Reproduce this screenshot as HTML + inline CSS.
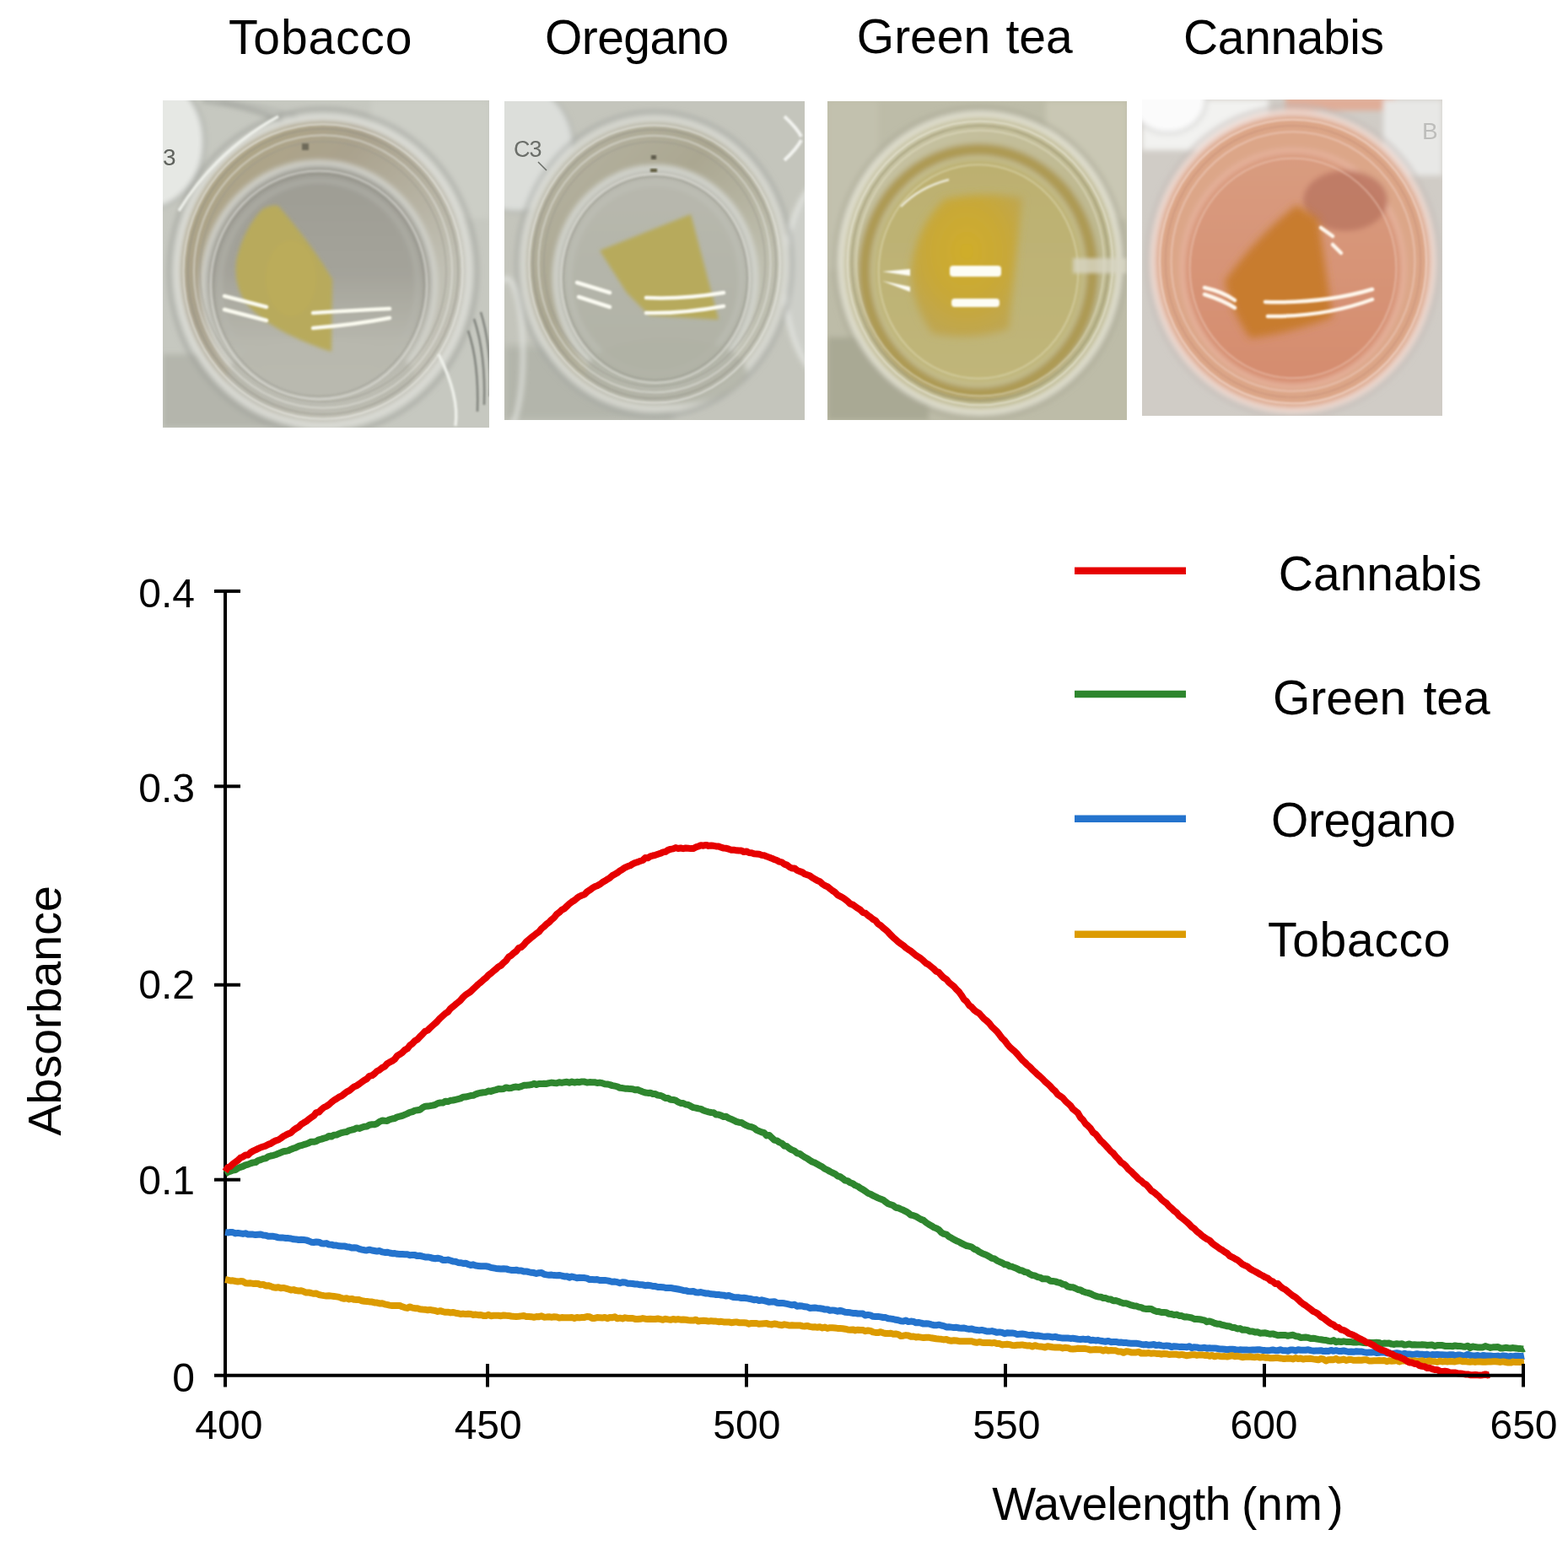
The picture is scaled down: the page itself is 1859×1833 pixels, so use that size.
<!DOCTYPE html>
<html><head><meta charset="utf-8"><title>Absorbance spectra</title>
<style>html,body{margin:0;padding:0;background:#fff;}svg{display:block;}</style></head>
<body>
<svg width="1859" height="1833" viewBox="0 0 1859 1833">
<defs>

<linearGradient id="g1in" x1="0" y1="0" x2="0" y2="1">
  <stop offset="0" stop-color="#9d9c93"/><stop offset="0.45" stop-color="#a4a39a"/><stop offset="0.75" stop-color="#b8b8ae"/><stop offset="1" stop-color="#c2c2b8"/>
</linearGradient>
<linearGradient id="g1ring" x1="0" y1="0" x2="1" y2="1">
  <stop offset="0" stop-color="#b2a883"/><stop offset="0.35" stop-color="#aaa28d"/><stop offset="0.7" stop-color="#c0bfb3"/><stop offset="1" stop-color="#c4c4bb"/>
</linearGradient>
<linearGradient id="g2in" x1="0" y1="0" x2="0" y2="1">
  <stop offset="0" stop-color="#b8b8ae"/><stop offset="1" stop-color="#b0b2a5"/>
</linearGradient>
<linearGradient id="g2ring" x1="0" y1="0" x2="1" y2="1">
  <stop offset="0" stop-color="#b8b6a6"/><stop offset="0.4" stop-color="#aba791"/><stop offset="0.7" stop-color="#bebeae"/><stop offset="1" stop-color="#c0c1b6"/>
</linearGradient>
<linearGradient id="g3ring" x1="0" y1="0" x2="1" y2="1">
  <stop offset="0" stop-color="#c8c5a8"/><stop offset="0.5" stop-color="#c0ba92"/><stop offset="1" stop-color="#bcb88e"/>
</linearGradient>
<linearGradient id="g3in" x1="0" y1="0" x2="0" y2="1">
  <stop offset="0" stop-color="#bcb070"/><stop offset="1" stop-color="#c0b67a"/>
</linearGradient>
<linearGradient id="g4in" x1="0" y1="0" x2="0" y2="1">
  <stop offset="0" stop-color="#d99c80"/><stop offset="1" stop-color="#d58c6e"/>
</linearGradient>
<radialGradient id="g3leaf" cx="0.5" cy="0.4" r="0.6">
  <stop offset="0" stop-color="#d0ad2a"/><stop offset="0.6" stop-color="#c8a838"/><stop offset="1" stop-color="#bfa650"/>
</radialGradient>

<clipPath id="c1"><rect x="193" y="119" width="387" height="388"/></clipPath>
<clipPath id="c2"><rect x="598" y="120" width="356" height="378"/></clipPath>
<clipPath id="c3"><rect x="981" y="120" width="355" height="378"/></clipPath>
<clipPath id="c4"><rect x="1354" y="118" width="356" height="375"/></clipPath>
<filter id="b1" x="-20%" y="-20%" width="140%" height="140%"><feGaussianBlur stdDeviation="1"/></filter>
<filter id="b2" x="-20%" y="-20%" width="140%" height="140%"><feGaussianBlur stdDeviation="2"/></filter>
<filter id="b3" x="-20%" y="-20%" width="140%" height="140%"><feGaussianBlur stdDeviation="3"/></filter>
<filter id="b4" x="-20%" y="-20%" width="140%" height="140%"><feGaussianBlur stdDeviation="5"/></filter>
</defs>
<rect width="1859" height="1833" fill="#fff"/>

<g clip-path="url(#c1)">
  <rect x="193" y="119" width="387" height="388" fill="#c6c8c0"/>
  <g filter="url(#b3)">
    <rect x="440" y="119" width="140" height="140" fill="#ccceC6"/>
    <rect x="193" y="420" width="220" height="87" fill="#b4b5ac"/>
    <ellipse cx="172" cy="168" rx="70" ry="80" fill="#e6e8e4" stroke="#9a9d98" stroke-width="2.5"/>
    <path d="M240 119 Q300 126 350 150" stroke="#8f918c" stroke-width="2.5" fill="none"/>
    <path d="M262 119 Q315 125 365 143" stroke="#a3a5a0" stroke-width="2" fill="none"/>
    <ellipse cx="383" cy="322" rx="182.4" ry="192.7" fill="none" stroke="#9c9e98" stroke-width="3"/>
    <ellipse cx="383" cy="322" rx="172.7" ry="182.4" fill="url(#g1ring)" stroke="#dcddd7" stroke-width="8"/>
    <ellipse cx="378" cy="338" rx="137.1" ry="144.8" fill="url(#g1in)" stroke="#d6d7d0" stroke-width="6"/>
    <ellipse cx="378" cy="338" rx="117.5" ry="124.1" fill="none" stroke="#b7b8b0" stroke-width="3"/>
    <ellipse cx="380" cy="445" rx="110" ry="45" fill="#b8b8ae" opacity="0.8"/>
  </g>
  <g filter="url(#b1)"><ellipse cx="383" cy="322" rx="165.5" ry="174.8" fill="none" stroke="#eeeee8" stroke-width="2" opacity="0.7"/><ellipse cx="383" cy="322" rx="160.2" ry="169.2" fill="none" stroke="#8e8c82" stroke-width="1.5" opacity="0.5"/><ellipse cx="383" cy="322" rx="153.1" ry="161.7" fill="none" stroke="#e4e4de" stroke-width="2" opacity="0.6"/><ellipse cx="383" cy="322" rx="146.0" ry="154.2" fill="none" stroke="#98968c" stroke-width="1.5" opacity="0.5"/></g>
  <g filter="url(#b1)"><ellipse cx="378" cy="338" rx="128.2" ry="135.4" fill="none" stroke="#e8e8e2" stroke-width="2" opacity="0.6"/><ellipse cx="378" cy="338" rx="124.6" ry="131.6" fill="none" stroke="#8a8a82" stroke-width="1.5" opacity="0.4"/></g>
  <g filter="url(#b2)">
    <path d="M311 248 Q322 242 330 244 Q370 290 394 331 L393 417 Q370 410 341 396 Q300 375 287 352 Q276 330 281 305 Q290 270 311 248 Z" fill="#b8aa5c"/>
    <ellipse cx="345" cy="330" rx="30" ry="45" fill="#bdae58" opacity="0.6"/>
  </g>
  <g filter="url(#b1)" stroke="#fbfbf0" stroke-width="4.5" fill="none" stroke-linecap="round">
    <path d="M266 351 L316 364"/><path d="M266 367 L316 380"/>
    <path d="M371 371 Q420 368 462 366"/><path d="M371 389 Q420 385 462 377"/>
  </g>
  <g filter="url(#b1)" stroke="#7f827c" stroke-width="2.5" fill="none">
    <path d="M562 378 Q576 420 574 480"/><path d="M555 392 Q568 430 566 488"/><path d="M570 370 Q583 412 581 470"/>
  </g>
  <g filter="url(#b1)" stroke="#eef0ea" stroke-width="3.5" fill="none">
    <path d="M212 250 Q255 180 330 138"/>
    <path d="M520 420 Q545 470 540 505"/>
  </g>
  <text x="193" y="196" font-family="'Liberation Sans', Arial, Helvetica, sans-serif" font-size="28" fill="#5f625d">3</text>
  <rect x="358" y="170" width="8" height="8" fill="#6e6a5a" filter="url(#b1)"/>
</g>

<g clip-path="url(#c2)">
  <rect x="598" y="120" width="356" height="378" fill="#c4c5bc"/>
  <rect x="598" y="410" width="200" height="88" fill="#b3b5ab" filter="url(#b4)"/>
  <g filter="url(#b3)">
    <ellipse cx="612" cy="175" rx="68" ry="76" fill="#dcdeda" stroke="#a9aca7" stroke-width="2.5"/>
    <ellipse cx="985" cy="330" rx="55" ry="120" fill="#cdcfc9" stroke="#e8eae6" stroke-width="4"/>
    <ellipse cx="600" cy="420" rx="20" ry="90" fill="none" stroke="#e6e8e4" stroke-width="4"/>
    <ellipse cx="776" cy="313" rx="163.2" ry="180.5" fill="none" stroke="#a2a5a0" stroke-width="3"/>
    <ellipse cx="776" cy="313" rx="155.2" ry="171.7" fill="url(#g2ring)" stroke="#d8d9d2" stroke-width="8"/>
    <ellipse cx="777" cy="330" rx="118.4" ry="131.0" fill="url(#g2in)" stroke="#d8dad4" stroke-width="6"/>
    <ellipse cx="777" cy="330" rx="102.4" ry="113.3" fill="none" stroke="#c2c4bc" stroke-width="3"/>
    <ellipse cx="790" cy="440" rx="95" ry="40" fill="#b0b2a5" opacity="0.8"/>
  </g>
  <g filter="url(#b1)"><ellipse cx="776" cy="313" rx="148.8" ry="164.6" fill="none" stroke="#eeeee8" stroke-width="2" opacity="0.7"/><ellipse cx="776" cy="313" rx="144.0" ry="159.3" fill="none" stroke="#8e8c82" stroke-width="1.5" opacity="0.5"/><ellipse cx="776" cy="313" rx="137.6" ry="152.2" fill="none" stroke="#e4e4de" stroke-width="2" opacity="0.6"/><ellipse cx="776" cy="313" rx="131.2" ry="145.1" fill="none" stroke="#98968c" stroke-width="1.5" opacity="0.5"/></g>
  <g filter="url(#b1)"><ellipse cx="777" cy="330" rx="112.0" ry="123.9" fill="none" stroke="#e8e8e2" stroke-width="2" opacity="0.6"/><ellipse cx="777" cy="330" rx="108.8" ry="120.4" fill="none" stroke="#8a8a82" stroke-width="1.5" opacity="0.4"/></g>
  <g filter="url(#b2)">
    <path d="M711 297 L819 254 L852 379 L770 374 L743 347 Z" fill="#b7aa5c"/>
  </g>
  <g filter="url(#b1)" stroke="#fbfbf2" stroke-width="4.5" fill="none" stroke-linecap="round">
    <path d="M684 335 L723 347"/><path d="M686 352 L723 364"/>
    <path d="M766 353 Q810 355 858 347"/><path d="M766 371 Q810 372 858 363"/>
  </g>
  <text x="609" y="186" font-family="'Liberation Sans', Arial, Helvetica, sans-serif" font-size="27" fill="#6b6e69" letter-spacing="-1">C3</text>
  <path d="M638 192 L648 202" stroke="#6b6e69" stroke-width="1.5"/>
  <g filter="url(#b1)" stroke="#f2f3ef" stroke-width="4" fill="none">
    <path d="M930 138 Q945 152 950 162"/><path d="M930 190 Q945 176 950 166"/>
  </g>
  <rect x="772" y="184" width="6" height="5" fill="#5d5a4c" filter="url(#b1)"/>
  <rect x="771" y="200" width="8" height="4" fill="#5d5a3c" filter="url(#b1)"/>
</g>

<g clip-path="url(#c3)">
  <rect x="981" y="120" width="355" height="378" fill="#bdbca8"/>
  <g filter="url(#b3)">
    <rect x="1240" y="120" width="96" height="140" fill="#c9c7b4"/>
    <rect x="981" y="120" width="60" height="200" fill="#c2c1ae"/>
    <rect x="981" y="400" width="120" height="98" fill="#a9a994"/>
    <ellipse cx="1162" cy="312" rx="172.4" ry="184.6" fill="none" stroke="#a9a794" stroke-width="3"/>
    <ellipse cx="1162" cy="312" rx="164.8" ry="176.5" fill="url(#g3ring)" stroke="#e2e1d2" stroke-width="7"/>
    <ellipse cx="1160" cy="322" rx="135.2" ry="144.8" fill="none" stroke="#ad9a52" stroke-width="14"/>
    <ellipse cx="1160" cy="322" rx="125.1" ry="133.9" fill="url(#g3in)" stroke="#c9c393" stroke-width="3"/>
  </g>
  <g filter="url(#b1)"><ellipse cx="1162" cy="312" rx="157.2" ry="168.3" fill="none" stroke="#efeee0" stroke-width="2" opacity="0.7"/><ellipse cx="1162" cy="312" rx="152.1" ry="162.9" fill="none" stroke="#8c8660" stroke-width="1.5" opacity="0.5"/><ellipse cx="1162" cy="312" rx="147.0" ry="157.5" fill="none" stroke="#e2dfc4" stroke-width="2" opacity="0.6"/></g>
  <g filter="url(#b1)"><ellipse cx="1160" cy="322" rx="118.3" ry="126.7" fill="none" stroke="#e6e2c0" stroke-width="2" opacity="0.5"/></g>
  <g filter="url(#b4)">
    <path d="M1120 236 Q1170 226 1212 235 L1196 390 Q1150 405 1105 395 Q1080 360 1080 320 Q1085 270 1120 236 Z" fill="url(#g3leaf)"/>
  </g>
  <g filter="url(#b1)" fill="#fdfdf4">
    <rect x="1126" y="315" width="61" height="13" rx="4"/>
    <rect x="1128" y="354" width="57" height="10" rx="4"/>
    <path d="M1046 322 L1079 319 L1079 327 Z"/><path d="M1046 333 L1079 340 L1079 346 Z"/>
  </g>
  <g filter="url(#b1)" stroke="#ecead8" stroke-width="2.5" fill="none">
    <path d="M1068 245 Q1090 222 1125 213"/>
  </g>
  <g filter="url(#b2)" fill="#d8d6c4" opacity="0.8">
    <rect x="1272" y="306" width="64" height="18"/>
  </g>
</g>

<g clip-path="url(#c4)">
  <rect x="1354" y="118" width="356" height="375" fill="#d0ccc6"/>
  <g filter="url(#b3)">
    <rect x="1354" y="118" width="150" height="60" fill="#f2f2f0"/>
    <ellipse cx="1385" cy="118" rx="45" ry="40" fill="#fbfbfb" stroke="#d0d0ce" stroke-width="3"/>
    <rect x="1524" y="114" width="130" height="17" fill="#e0ad98"/>
    <rect x="1640" y="118" width="70" height="90" fill="#e8e8e6"/>
    <ellipse cx="1533" cy="310" rx="173.4" ry="184.6" fill="none" stroke="#c2bab6" stroke-width="3"/>
    <ellipse cx="1533" cy="310" rx="165.8" ry="176.5" fill="#dca688" stroke="#eed8cf" stroke-width="7"/>
    <ellipse cx="1533" cy="318" rx="130.9" ry="139.4" fill="url(#g4in)" stroke="#e6b29c" stroke-width="6"/>
    <ellipse cx="1595" cy="238" rx="50" ry="36" fill="#bb7562" opacity="0.85"/>
  </g>
  <g filter="url(#b1)"><ellipse cx="1533" cy="310" rx="158.1" ry="168.3" fill="none" stroke="#f6e0d6" stroke-width="2" opacity="0.7"/><ellipse cx="1533" cy="310" rx="151.3" ry="161.1" fill="none" stroke="#b8806c" stroke-width="1.5" opacity="0.4"/><ellipse cx="1533" cy="310" rx="144.5" ry="153.8" fill="none" stroke="#f0cfc2" stroke-width="2" opacity="0.6"/></g>
  <g filter="url(#b1)"><ellipse cx="1533" cy="318" rx="122.4" ry="130.3" fill="none" stroke="#f2cfc0" stroke-width="2" opacity="0.5"/></g>
  <g filter="url(#b4)">
    <path d="M1537 243 L1563 259 L1580 376 Q1530 395 1482 401 Q1460 370 1452 333 Q1490 280 1537 243 Z" fill="#c87c2e"/>
  </g>
  <g filter="url(#b1)" stroke="#fff7ec" stroke-width="4.5" fill="none" stroke-linecap="round">
    <path d="M1428 341 Q1450 346 1464 356"/><path d="M1428 349 Q1450 356 1464 365"/>
    <path d="M1500 358 Q1570 360 1627 343"/><path d="M1503 375 Q1570 376 1627 355"/>
    <path d="M1566 270 L1580 280"/><path d="M1580 290 L1590 300"/>
  </g>
  <text x="1686" y="165" font-family="'Liberation Sans', Arial, Helvetica, sans-serif" font-size="28" fill="#bdbdbb">B</text>
</g>
<g font-family="'Liberation Sans', Arial, Helvetica, sans-serif" font-size="57" fill="#000">
<text x="271" y="63.6" letter-spacing="0.85">Tobacco</text>
<text x="646.1" y="63.8" letter-spacing="-0.6">Oregano</text>
<text x="1015.8" y="63.3">Green</text><text x="1192.5" y="63.3">tea</text>
<text x="1403.1" y="63.7" letter-spacing="-0.4">Cannabis</text>
<text x="1515.8" y="700.1">Cannabis</text>
<text x="1508.9" y="847">Green</text><text x="1687.4" y="847">tea</text>
<text x="1507.1" y="991.5" letter-spacing="-0.5">Oregano</text>
<text x="1503" y="1133.6" letter-spacing="0.7">Tobacco</text>
</g>
<line x1="267" y1="699" x2="267" y2="1644.5" stroke="#000" stroke-width="4"/>
<g fill="none" stroke-width="8" stroke-linejoin="round" stroke-linecap="butt">
<path stroke="#2473cd" d="M267 1460.8 L270 1461.4 L273 1461.1 L276 1461.1 L279 1462.4 L282 1461.9 L285 1462.4 L288 1462.9 L291 1462.3 L294 1463.4 L297 1463.5 L300 1463.6 L303 1464.1 L306 1463.8 L309 1463.5 L312 1464.6 L315 1464.7 L318 1465.8 L321 1465.8 L324 1465.8 L327 1466.4 L330 1467.3 L333 1467.6 L336 1467.6 L339 1468.0 L342 1468.1 L345 1468.5 L348 1469.3 L351 1469.4 L354 1470.0 L357 1469.8 L360 1470.0 L363 1470.4 L366 1471.4 L369 1472.7 L372 1473.0 L375 1472.5 L378 1472.7 L381 1474.2 L384 1474.5 L387 1474.1 L390 1475.6 L393 1475.7 L396 1476.6 L399 1476.6 L402 1477.3 L405 1477.5 L408 1477.4 L411 1478.2 L414 1478.5 L417 1479.6 L420 1479.3 L423 1479.5 L426 1480.9 L429 1481.6 L432 1482.2 L435 1482.4 L438 1481.7 L441 1482.5 L444 1483.0 L447 1483.6 L450 1483.0 L453 1484.4 L456 1484.9 L459 1484.7 L462 1485.5 L465 1486.2 L468 1486.0 L471 1486.8 L474 1487.0 L477 1487.1 L480 1487.3 L483 1487.3 L486 1488.3 L489 1487.9 L492 1488.1 L495 1489.1 L498 1488.8 L501 1489.7 L504 1490.4 L507 1490.4 L510 1490.9 L513 1491.8 L516 1492.2 L519 1491.7 L522 1492.3 L525 1494.0 L528 1494.1 L531 1493.6 L534 1494.5 L537 1495.6 L540 1495.7 L543 1496.9 L546 1497.2 L549 1497.9 L552 1497.7 L555 1499.0 L558 1500.0 L561 1499.3 L564 1500.6 L567 1500.9 L570 1501.2 L573 1501.3 L576 1501.2 L579 1501.7 L582 1502.9 L585 1503.4 L588 1503.9 L591 1504.2 L594 1504.5 L597 1504.3 L600 1504.4 L603 1505.4 L606 1505.9 L609 1506.1 L612 1505.7 L615 1506.6 L618 1506.5 L621 1507.6 L624 1507.4 L627 1508.2 L630 1508.8 L633 1509.1 L636 1510.0 L639 1509.2 L642 1509.1 L645 1510.8 L648 1511.4 L651 1511.8 L654 1511.6 L657 1512.1 L660 1512.2 L663 1511.9 L666 1512.6 L669 1513.4 L672 1513.2 L675 1514.7 L678 1513.5 L681 1514.3 L684 1515.3 L687 1514.8 L690 1514.9 L693 1515.1 L696 1515.7 L699 1517.1 L702 1516.9 L705 1517.2 L708 1517.1 L711 1518.0 L714 1518.0 L717 1517.9 L720 1518.4 L723 1519.0 L726 1519.8 L729 1519.6 L732 1520.2 L735 1521.2 L738 1520.2 L741 1520.4 L744 1521.7 L747 1521.8 L750 1522.0 L753 1522.5 L756 1522.6 L759 1523.3 L762 1523.3 L765 1524.2 L768 1523.7 L771 1524.2 L774 1525.0 L777 1525.1 L780 1526.0 L783 1526.0 L786 1526.2 L789 1526.9 L792 1527.0 L795 1526.9 L798 1527.5 L801 1528.0 L804 1528.5 L807 1529.2 L810 1529.9 L813 1530.2 L816 1531.1 L819 1531.3 L822 1531.0 L825 1532.2 L828 1532.4 L831 1532.1 L834 1532.8 L837 1533.5 L840 1533.6 L843 1534.3 L846 1534.4 L849 1535.0 L852 1534.9 L855 1535.6 L858 1535.7 L861 1536.6 L864 1535.9 L867 1537.2 L870 1538.1 L873 1538.2 L876 1538.3 L879 1539.0 L882 1538.8 L885 1539.2 L888 1539.8 L891 1540.3 L894 1541.2 L897 1540.8 L900 1542.1 L903 1541.3 L906 1542.1 L909 1542.9 L912 1543.8 L915 1543.4 L918 1543.2 L921 1544.7 L924 1544.9 L927 1544.9 L930 1545.3 L933 1545.9 L936 1546.6 L939 1547.3 L942 1546.7 L945 1548.8 L948 1548.2 L951 1548.5 L954 1549.3 L957 1549.5 L960 1550.9 L963 1550.7 L966 1550.5 L969 1550.9 L972 1551.2 L975 1551.7 L978 1552.6 L981 1552.4 L984 1553.8 L987 1553.4 L990 1553.8 L993 1554.7 L996 1553.8 L999 1554.7 L1002 1555.8 L1005 1555.9 L1008 1556.3 L1011 1556.9 L1014 1556.9 L1017 1557.5 L1020 1557.4 L1023 1557.6 L1026 1559.5 L1029 1558.9 L1032 1559.4 L1035 1560.8 L1038 1561.1 L1041 1560.9 L1044 1561.4 L1047 1562.0 L1050 1562.1 L1053 1563.3 L1056 1563.6 L1059 1564.0 L1062 1564.8 L1065 1565.2 L1068 1566.2 L1071 1566.5 L1074 1565.5 L1077 1567.1 L1080 1566.6 L1083 1566.9 L1086 1568.3 L1089 1568.0 L1092 1568.6 L1095 1569.6 L1098 1569.2 L1101 1569.5 L1104 1570.4 L1107 1571.2 L1110 1571.3 L1113 1570.7 L1116 1571.5 L1119 1572.1 L1122 1573.4 L1125 1573.2 L1128 1573.6 L1131 1574.1 L1134 1573.8 L1137 1574.5 L1140 1574.8 L1143 1574.5 L1146 1575.3 L1149 1575.9 L1152 1575.5 L1155 1576.6 L1158 1576.9 L1161 1577.4 L1164 1576.9 L1167 1577.6 L1170 1578.5 L1173 1578.6 L1176 1578.1 L1179 1578.9 L1182 1579.8 L1185 1579.4 L1188 1579.9 L1191 1581.2 L1194 1580.3 L1197 1580.6 L1200 1580.4 L1203 1580.9 L1206 1582.1 L1209 1581.7 L1212 1581.5 L1215 1581.9 L1218 1582.6 L1221 1583.2 L1224 1582.8 L1227 1583.7 L1230 1583.4 L1233 1584.0 L1236 1584.4 L1239 1584.7 L1242 1584.4 L1245 1584.8 L1248 1585.4 L1251 1584.8 L1254 1585.7 L1257 1586.1 L1260 1586.6 L1263 1586.4 L1266 1586.5 L1269 1586.9 L1272 1586.8 L1275 1587.3 L1278 1587.8 L1281 1588.0 L1284 1587.6 L1287 1588.2 L1290 1587.6 L1293 1589.2 L1296 1588.8 L1299 1589.4 L1302 1589.1 L1305 1589.8 L1308 1590.3 L1311 1590.7 L1314 1589.9 L1317 1591.2 L1320 1591.0 L1323 1590.9 L1326 1591.7 L1329 1591.6 L1332 1591.9 L1335 1591.9 L1338 1592.6 L1341 1592.7 L1344 1592.8 L1347 1592.7 L1350 1593.1 L1353 1593.8 L1356 1594.4 L1359 1594.0 L1362 1594.8 L1365 1594.4 L1368 1594.1 L1371 1595.1 L1374 1594.6 L1377 1595.4 L1380 1595.9 L1383 1595.4 L1386 1595.7 L1389 1597.1 L1392 1596.2 L1395 1596.5 L1398 1596.9 L1401 1596.7 L1404 1596.9 L1407 1597.3 L1410 1596.2 L1413 1598.1 L1416 1597.2 L1419 1597.4 L1422 1598.3 L1425 1598.2 L1428 1597.8 L1431 1598.7 L1434 1598.2 L1437 1598.6 L1440 1598.4 L1443 1598.8 L1446 1599.5 L1449 1599.5 L1452 1599.8 L1455 1600.2 L1458 1599.8 L1461 1599.7 L1464 1600.0 L1467 1600.9 L1470 1600.3 L1473 1600.5 L1476 1600.4 L1479 1600.6 L1482 1600.7 L1485 1600.6 L1488 1600.5 L1491 1600.3 L1494 1600.3 L1497 1600.9 L1500 1601.1 L1503 1601.2 L1506 1600.9 L1509 1600.5 L1512 1601.2 L1515 1601.2 L1518 1600.3 L1521 1601.3 L1524 1601.2 L1527 1601.7 L1530 1600.5 L1533 1600.5 L1536 1601.4 L1539 1600.3 L1542 1600.8 L1545 1600.7 L1548 1600.7 L1551 1600.3 L1554 1601.1 L1557 1601.7 L1560 1601.5 L1563 1601.5 L1566 1601.2 L1569 1602.1 L1572 1601.7 L1575 1602.0 L1578 1600.9 L1581 1601.8 L1584 1601.2 L1587 1602.0 L1590 1602.0 L1593 1601.5 L1596 1602.2 L1599 1602.8 L1602 1602.6 L1605 1602.8 L1608 1602.2 L1611 1602.4 L1614 1602.4 L1617 1603.1 L1620 1603.7 L1623 1603.5 L1626 1603.5 L1629 1603.1 L1632 1604.0 L1635 1603.8 L1638 1603.2 L1641 1603.4 L1644 1604.2 L1647 1604.0 L1650 1605.3 L1653 1604.7 L1656 1604.3 L1659 1604.7 L1662 1605.7 L1665 1604.7 L1668 1605.5 L1671 1605.5 L1674 1606.0 L1677 1605.7 L1680 1605.3 L1683 1605.8 L1686 1605.7 L1689 1606.2 L1692 1605.8 L1695 1606.8 L1698 1606.0 L1701 1606.3 L1704 1605.9 L1707 1606.3 L1710 1606.3 L1713 1606.4 L1716 1606.8 L1719 1606.3 L1722 1606.2 L1725 1607.1 L1728 1606.6 L1731 1606.5 L1734 1607.4 L1737 1607.3 L1740 1605.8 L1743 1606.9 L1746 1607.5 L1749 1607.5 L1752 1607.0 L1755 1608.0 L1758 1607.0 L1761 1607.3 L1764 1607.5 L1767 1607.5 L1770 1607.9 L1773 1608.0 L1776 1607.6 L1779 1608.3 L1782 1607.4 L1785 1607.7 L1788 1608.6 L1791 1607.9 L1794 1608.4 L1797 1607.7 L1800 1607.8 L1803 1607.9 L1806 1608.1 L1807 1607.9"/>
<path stroke="#2e862e" d="M267 1391.7 L270 1389.8 L273 1388.8 L276 1387.6 L279 1387.0 L282 1385.1 L285 1383.8 L288 1382.9 L291 1381.4 L294 1380.6 L297 1379.4 L300 1378.4 L303 1378.1 L306 1376.0 L309 1375.1 L312 1373.9 L315 1373.3 L318 1371.4 L321 1370.5 L324 1369.8 L327 1369.0 L330 1367.7 L333 1366.5 L336 1365.3 L339 1364.8 L342 1364.2 L345 1362.7 L348 1361.5 L351 1360.6 L354 1358.9 L357 1358.2 L360 1357.2 L363 1356.4 L366 1355.2 L369 1353.7 L372 1353.8 L375 1353.1 L378 1351.3 L381 1350.6 L384 1349.6 L387 1348.9 L390 1347.0 L393 1347.5 L396 1345.7 L399 1345.6 L402 1344.2 L405 1343.1 L408 1342.4 L411 1342.0 L414 1340.3 L417 1339.7 L420 1338.8 L423 1337.4 L426 1337.9 L429 1336.8 L432 1335.7 L435 1335.4 L438 1333.7 L441 1333.3 L444 1333.3 L447 1332.2 L450 1329.9 L453 1328.6 L456 1328.8 L459 1328.9 L462 1327.3 L465 1326.5 L468 1326.0 L471 1324.3 L474 1323.7 L477 1322.9 L480 1321.6 L483 1320.4 L486 1318.8 L489 1318.1 L492 1316.6 L495 1316.2 L498 1315.8 L501 1313.3 L504 1311.7 L507 1311.6 L510 1311.1 L513 1310.6 L516 1309.8 L519 1308.2 L522 1307.5 L525 1307.6 L528 1305.8 L531 1306.1 L534 1304.8 L537 1304.5 L540 1303.8 L543 1303.1 L546 1302.4 L549 1300.8 L552 1300.6 L555 1299.8 L558 1299.1 L561 1298.8 L564 1297.4 L567 1296.4 L570 1295.7 L573 1295.2 L576 1295.0 L579 1293.6 L582 1293.9 L585 1292.9 L588 1292.1 L591 1291.1 L594 1291.3 L597 1291.0 L600 1289.4 L603 1290.2 L606 1290.0 L609 1288.9 L612 1288.6 L615 1289.0 L618 1288.1 L621 1286.8 L624 1286.8 L627 1286.4 L630 1286.1 L633 1284.8 L636 1286.0 L639 1285.0 L642 1285.1 L645 1284.7 L648 1284.9 L651 1284.1 L654 1283.6 L657 1284.0 L660 1284.2 L663 1283.2 L666 1283.8 L669 1283.2 L672 1282.8 L675 1283.7 L678 1282.6 L681 1283.5 L684 1282.8 L687 1283.2 L690 1282.4 L693 1282.6 L696 1283.5 L699 1283.1 L702 1283.2 L705 1283.2 L708 1284.0 L711 1283.6 L714 1284.2 L717 1285.2 L720 1285.4 L723 1286.1 L726 1287.1 L729 1287.7 L732 1288.3 L735 1289.8 L738 1290.1 L741 1290.7 L744 1290.7 L747 1291.1 L750 1291.2 L753 1292.3 L756 1292.0 L759 1293.3 L762 1294.5 L765 1295.5 L768 1295.9 L771 1295.7 L774 1297.0 L777 1297.1 L780 1298.6 L783 1298.9 L786 1300.2 L789 1301.9 L792 1302.1 L795 1303.8 L798 1303.9 L801 1304.7 L804 1306.6 L807 1307.9 L810 1308.1 L813 1309.5 L816 1309.9 L819 1311.6 L822 1313.1 L825 1313.6 L828 1314.4 L831 1314.9 L834 1316.5 L837 1317.5 L840 1318.3 L843 1319.0 L846 1319.2 L849 1321.5 L852 1321.6 L855 1322.6 L858 1324.1 L861 1323.8 L864 1325.8 L867 1326.9 L870 1328.3 L873 1329.9 L876 1330.7 L879 1330.9 L882 1332.8 L885 1334.3 L888 1335.6 L891 1336.2 L894 1337.4 L897 1339.8 L900 1341.1 L903 1342.4 L906 1343.2 L909 1346.4 L912 1346.0 L915 1348.8 L918 1351.7 L921 1352.4 L924 1354.4 L927 1355.6 L930 1358.5 L933 1359.2 L936 1361.7 L939 1363.4 L942 1364.6 L945 1367.3 L948 1367.9 L951 1370.0 L954 1372.0 L957 1373.5 L960 1375.6 L963 1377.5 L966 1378.6 L969 1380.2 L972 1381.9 L975 1383.6 L978 1385.9 L981 1387.1 L984 1389.0 L987 1390.5 L990 1391.8 L993 1394.3 L996 1395.1 L999 1397.2 L1002 1399.6 L1005 1400.1 L1008 1402.2 L1011 1403.2 L1014 1405.4 L1017 1406.6 L1020 1408.8 L1023 1410.4 L1026 1412.4 L1029 1414.7 L1032 1415.7 L1035 1417.5 L1038 1418.8 L1041 1420.3 L1044 1421.6 L1047 1422.7 L1050 1425.1 L1053 1427.3 L1056 1428.3 L1059 1429.3 L1062 1431.7 L1065 1432.2 L1068 1433.6 L1071 1434.8 L1074 1436.3 L1077 1438.1 L1080 1440.6 L1083 1441.2 L1086 1442.3 L1089 1444.1 L1092 1445.9 L1095 1446.9 L1098 1449.5 L1101 1451.5 L1104 1453.2 L1107 1455.2 L1110 1456.2 L1113 1457.9 L1116 1461.2 L1119 1462.9 L1122 1463.6 L1125 1466.2 L1128 1467.8 L1131 1469.7 L1134 1471.2 L1137 1472.4 L1140 1474.2 L1143 1475.7 L1146 1477.0 L1149 1477.6 L1152 1478.5 L1155 1480.9 L1158 1482.0 L1161 1484.2 L1164 1485.8 L1167 1487.1 L1170 1488.2 L1173 1489.9 L1176 1491.8 L1179 1492.4 L1182 1494.6 L1185 1496.0 L1188 1497.2 L1191 1499.1 L1194 1499.4 L1197 1501.4 L1200 1501.8 L1203 1503.1 L1206 1504.2 L1209 1506.0 L1212 1506.5 L1215 1508.1 L1218 1508.6 L1221 1510.7 L1224 1512.1 L1227 1512.4 L1230 1514.1 L1233 1514.6 L1236 1516.3 L1239 1516.2 L1242 1516.4 L1245 1518.7 L1248 1518.9 L1251 1519.4 L1254 1520.4 L1257 1521.0 L1260 1522.6 L1263 1523.2 L1266 1525.4 L1269 1526.2 L1272 1526.3 L1275 1527.5 L1278 1529.0 L1281 1529.5 L1284 1531.3 L1287 1532.3 L1290 1532.9 L1293 1533.9 L1296 1535.3 L1299 1536.6 L1302 1537.5 L1305 1537.7 L1308 1539.0 L1311 1539.1 L1314 1540.4 L1317 1540.6 L1320 1542.2 L1323 1542.1 L1326 1543.0 L1329 1544.3 L1332 1545.3 L1335 1545.2 L1338 1546.3 L1341 1547.4 L1344 1548.2 L1347 1548.4 L1350 1549.6 L1353 1550.1 L1356 1551.6 L1359 1551.9 L1362 1551.7 L1365 1552.0 L1368 1553.7 L1371 1554.9 L1374 1555.1 L1377 1556.0 L1380 1556.1 L1383 1556.3 L1386 1557.8 L1389 1558.1 L1392 1559.0 L1395 1558.6 L1398 1559.9 L1401 1560.1 L1404 1561.4 L1407 1561.3 L1410 1561.9 L1413 1562.5 L1416 1563.9 L1419 1564.0 L1422 1564.3 L1425 1564.8 L1428 1565.4 L1431 1567.2 L1434 1566.4 L1437 1567.5 L1440 1568.8 L1443 1569.7 L1446 1569.8 L1449 1570.9 L1452 1571.5 L1455 1572.3 L1458 1572.6 L1461 1574.0 L1464 1574.1 L1467 1575.5 L1470 1575.1 L1473 1576.8 L1476 1576.6 L1479 1577.2 L1482 1578.6 L1485 1578.4 L1488 1579.5 L1491 1579.2 L1494 1580.8 L1497 1580.4 L1500 1580.3 L1503 1581.2 L1506 1581.8 L1509 1581.4 L1512 1582.3 L1515 1583.3 L1518 1583.0 L1521 1582.9 L1524 1583.0 L1527 1583.8 L1530 1583.2 L1533 1582.8 L1536 1584.2 L1539 1584.4 L1542 1586.0 L1545 1585.7 L1548 1585.6 L1551 1585.9 L1554 1587.0 L1557 1586.8 L1560 1587.3 L1563 1587.9 L1566 1588.3 L1569 1588.7 L1572 1589.0 L1575 1589.9 L1578 1590.3 L1581 1589.1 L1584 1591.2 L1587 1590.3 L1590 1591.0 L1593 1590.3 L1596 1590.9 L1599 1591.0 L1602 1591.1 L1605 1591.6 L1608 1591.6 L1611 1591.0 L1614 1591.6 L1617 1592.1 L1620 1592.2 L1623 1591.8 L1626 1592.0 L1629 1592.1 L1632 1591.8 L1635 1591.9 L1638 1593.3 L1641 1592.5 L1644 1592.8 L1647 1592.6 L1650 1593.6 L1653 1593.9 L1656 1593.2 L1659 1593.6 L1662 1593.2 L1665 1594.5 L1668 1594.2 L1671 1593.5 L1674 1594.6 L1677 1594.3 L1680 1594.5 L1683 1594.6 L1686 1594.2 L1689 1594.4 L1692 1595.0 L1695 1594.8 L1698 1594.6 L1701 1596.0 L1704 1595.1 L1707 1595.1 L1710 1595.1 L1713 1595.9 L1716 1596.1 L1719 1595.9 L1722 1596.3 L1725 1595.4 L1728 1596.0 L1731 1596.0 L1734 1596.4 L1737 1596.7 L1740 1595.7 L1743 1598.1 L1746 1596.4 L1749 1597.1 L1752 1597.4 L1755 1597.5 L1758 1597.4 L1761 1596.1 L1764 1597.0 L1767 1597.9 L1770 1597.3 L1773 1597.3 L1776 1596.9 L1779 1598.6 L1782 1598.4 L1785 1597.8 L1788 1598.3 L1791 1598.4 L1794 1598.1 L1797 1598.5 L1800 1598.9 L1803 1599.1 L1806 1599.5 L1807 1599.0"/>
<path stroke="#dc9b00" d="M267 1517.0 L270 1517.7 L273 1518.4 L276 1518.3 L279 1519.0 L282 1519.5 L285 1519.1 L288 1519.3 L291 1521.2 L294 1521.5 L297 1521.3 L300 1521.9 L303 1521.8 L306 1522.0 L309 1523.3 L312 1522.9 L315 1524.4 L318 1524.2 L321 1525.1 L324 1526.3 L327 1526.7 L330 1526.2 L333 1527.3 L336 1526.9 L339 1527.6 L342 1528.5 L345 1529.5 L348 1529.1 L351 1530.1 L354 1530.4 L357 1530.3 L360 1531.3 L363 1532.6 L366 1532.4 L369 1533.2 L372 1533.8 L375 1533.6 L378 1535.0 L381 1535.6 L384 1536.1 L387 1536.5 L390 1536.2 L393 1536.6 L396 1537.0 L399 1537.4 L402 1537.9 L405 1539.1 L408 1539.8 L411 1539.3 L414 1540.4 L417 1539.9 L420 1540.8 L423 1541.0 L426 1541.1 L429 1542.3 L432 1542.8 L435 1543.0 L438 1543.4 L441 1543.6 L444 1544.4 L447 1544.6 L450 1545.4 L453 1545.2 L456 1546.3 L459 1546.9 L462 1547.6 L465 1548.0 L468 1548.0 L471 1548.1 L474 1548.0 L477 1549.3 L480 1550.3 L483 1550.9 L486 1549.4 L489 1550.6 L492 1551.2 L495 1551.3 L498 1552.3 L501 1552.6 L504 1552.7 L507 1553.3 L510 1552.9 L513 1553.6 L516 1553.9 L519 1555.0 L522 1554.2 L525 1555.1 L528 1555.8 L531 1555.7 L534 1556.4 L537 1556.0 L540 1556.7 L543 1557.2 L546 1558.0 L549 1557.6 L552 1558.1 L555 1557.7 L558 1558.0 L561 1558.9 L564 1558.6 L567 1559.2 L570 1559.0 L573 1559.9 L576 1560.1 L579 1558.8 L582 1560.2 L585 1559.7 L588 1559.8 L591 1559.7 L594 1560.2 L597 1559.5 L600 1559.8 L603 1559.9 L606 1560.5 L609 1560.8 L612 1560.9 L615 1560.8 L618 1560.4 L621 1560.0 L624 1561.1 L627 1561.0 L630 1561.2 L633 1561.8 L636 1561.1 L639 1561.2 L642 1560.3 L645 1561.7 L648 1561.5 L651 1561.2 L654 1561.8 L657 1561.2 L660 1561.4 L663 1562.6 L666 1562.1 L669 1562.2 L672 1562.2 L675 1562.2 L678 1562.0 L681 1563.0 L684 1562.0 L687 1562.4 L690 1562.0 L693 1561.9 L696 1561.0 L699 1561.3 L702 1562.9 L705 1562.9 L708 1562.1 L711 1562.3 L714 1562.6 L717 1561.9 L720 1563.2 L723 1562.0 L726 1562.2 L729 1561.3 L732 1563.3 L735 1562.7 L738 1563.4 L741 1562.3 L744 1562.9 L747 1562.9 L750 1563.0 L753 1563.9 L756 1564.1 L759 1563.8 L762 1563.1 L765 1563.7 L768 1564.0 L771 1563.8 L774 1563.9 L777 1564.0 L780 1563.5 L783 1564.1 L786 1564.8 L789 1563.8 L792 1564.4 L795 1564.8 L798 1564.0 L801 1564.7 L804 1564.1 L807 1564.7 L810 1564.5 L813 1564.8 L816 1565.2 L819 1565.4 L822 1565.6 L825 1564.7 L828 1566.6 L831 1565.9 L834 1565.7 L837 1566.0 L840 1566.6 L843 1566.1 L846 1566.5 L849 1566.6 L852 1567.2 L855 1566.8 L858 1567.4 L861 1567.5 L864 1567.4 L867 1568.2 L870 1567.8 L873 1567.4 L876 1568.2 L879 1568.3 L882 1568.3 L885 1568.6 L888 1569.7 L891 1568.9 L894 1569.1 L897 1569.0 L900 1569.8 L903 1569.4 L906 1569.2 L909 1569.1 L912 1570.1 L915 1570.4 L918 1569.5 L921 1570.0 L924 1570.8 L927 1571.2 L930 1570.3 L933 1570.9 L936 1571.6 L939 1571.2 L942 1571.4 L945 1571.5 L948 1571.4 L951 1572.2 L954 1572.5 L957 1571.9 L960 1572.8 L963 1573.4 L966 1573.2 L969 1573.8 L972 1573.3 L975 1574.4 L978 1573.6 L981 1575.0 L984 1574.2 L987 1574.3 L990 1574.5 L993 1574.9 L996 1575.1 L999 1575.3 L1002 1575.7 L1005 1576.4 L1008 1576.7 L1011 1576.4 L1014 1577.4 L1017 1576.7 L1020 1576.9 L1023 1577.1 L1026 1578.2 L1029 1577.5 L1032 1577.9 L1035 1579.4 L1038 1579.9 L1041 1580.1 L1044 1579.2 L1047 1580.3 L1050 1581.0 L1053 1581.1 L1056 1580.7 L1059 1581.7 L1062 1581.5 L1065 1582.1 L1068 1584.0 L1071 1583.7 L1074 1583.1 L1077 1583.5 L1080 1584.7 L1083 1584.5 L1086 1585.4 L1089 1585.1 L1092 1585.6 L1095 1586.1 L1098 1585.8 L1101 1585.7 L1104 1586.3 L1107 1586.8 L1110 1587.3 L1113 1587.6 L1116 1587.8 L1119 1588.4 L1122 1588.0 L1125 1589.3 L1128 1589.8 L1131 1589.3 L1134 1589.5 L1137 1590.2 L1140 1590.2 L1143 1590.2 L1146 1590.3 L1149 1590.2 L1152 1590.3 L1155 1591.3 L1158 1591.8 L1161 1591.0 L1164 1591.7 L1167 1592.0 L1170 1592.0 L1173 1592.0 L1176 1592.4 L1179 1591.9 L1182 1593.0 L1185 1593.1 L1188 1594.4 L1191 1594.1 L1194 1593.7 L1197 1594.1 L1200 1595.0 L1203 1595.2 L1206 1594.8 L1209 1594.8 L1212 1594.4 L1215 1595.1 L1218 1595.4 L1221 1595.3 L1224 1596.6 L1227 1595.2 L1230 1596.1 L1233 1596.6 L1236 1596.8 L1239 1597.5 L1242 1596.3 L1245 1596.8 L1248 1597.3 L1251 1597.5 L1254 1597.5 L1257 1597.5 L1260 1598.5 L1263 1597.7 L1266 1598.1 L1269 1599.2 L1272 1599.5 L1275 1599.3 L1278 1598.7 L1281 1598.9 L1284 1599.0 L1287 1599.1 L1290 1599.6 L1293 1600.6 L1296 1600.3 L1299 1600.1 L1302 1600.3 L1305 1600.3 L1308 1601.5 L1311 1600.3 L1314 1601.5 L1317 1601.0 L1320 1601.3 L1323 1601.3 L1326 1602.6 L1329 1602.4 L1332 1603.8 L1335 1602.3 L1338 1602.5 L1341 1603.4 L1344 1603.6 L1347 1603.4 L1350 1602.8 L1353 1604.5 L1356 1604.3 L1359 1604.4 L1362 1604.1 L1365 1604.8 L1368 1604.4 L1371 1604.9 L1374 1604.9 L1377 1605.7 L1380 1605.0 L1383 1605.2 L1386 1606.0 L1389 1605.8 L1392 1605.8 L1395 1605.8 L1398 1606.5 L1401 1605.9 L1404 1606.5 L1407 1607.3 L1410 1606.7 L1413 1606.3 L1416 1606.2 L1419 1606.9 L1422 1606.4 L1425 1606.4 L1428 1606.9 L1431 1606.8 L1434 1607.8 L1437 1606.9 L1440 1608.3 L1443 1607.4 L1446 1607.9 L1449 1608.2 L1452 1608.1 L1455 1608.5 L1458 1607.8 L1461 1607.3 L1464 1608.3 L1467 1607.8 L1470 1608.4 L1473 1609.2 L1476 1608.7 L1479 1608.7 L1482 1608.5 L1485 1609.0 L1488 1609.2 L1491 1608.6 L1494 1609.6 L1497 1609.0 L1500 1609.7 L1503 1609.5 L1506 1610.3 L1509 1610.3 L1512 1610.0 L1515 1610.1 L1518 1610.4 L1521 1610.9 L1524 1610.9 L1527 1610.5 L1530 1610.7 L1533 1611.4 L1536 1610.0 L1539 1611.1 L1542 1610.5 L1545 1611.6 L1548 1610.9 L1551 1611.1 L1554 1610.8 L1557 1611.4 L1560 1611.8 L1563 1612.3 L1566 1611.0 L1569 1611.5 L1572 1613.5 L1575 1612.2 L1578 1611.9 L1581 1612.2 L1584 1610.8 L1587 1612.8 L1590 1612.3 L1593 1611.6 L1596 1612.9 L1599 1612.1 L1602 1612.0 L1605 1612.8 L1608 1612.8 L1611 1612.5 L1614 1612.7 L1617 1612.2 L1620 1612.2 L1623 1613.4 L1626 1613.6 L1629 1613.3 L1632 1613.3 L1635 1613.0 L1638 1613.2 L1641 1612.9 L1644 1614.2 L1647 1613.2 L1650 1613.7 L1653 1613.5 L1656 1612.9 L1659 1614.5 L1662 1613.5 L1665 1613.3 L1668 1613.8 L1671 1613.3 L1674 1613.8 L1677 1613.4 L1680 1614.1 L1683 1613.9 L1686 1613.3 L1689 1614.4 L1692 1614.0 L1695 1613.5 L1698 1614.2 L1701 1614.2 L1704 1614.9 L1707 1613.7 L1710 1614.5 L1713 1614.1 L1716 1614.4 L1719 1614.1 L1722 1614.2 L1725 1614.5 L1728 1613.7 L1731 1613.3 L1734 1614.3 L1737 1614.1 L1740 1614.4 L1743 1614.7 L1746 1614.3 L1749 1614.9 L1752 1614.4 L1755 1614.5 L1758 1614.8 L1761 1614.7 L1764 1614.5 L1767 1614.6 L1770 1614.2 L1773 1614.3 L1776 1614.6 L1779 1614.9 L1782 1614.4 L1785 1615.0 L1788 1615.5 L1791 1615.6 L1794 1614.6 L1797 1615.1 L1800 1614.9 L1803 1615.0 L1806 1615.0 L1807 1614.9"/>
<path stroke="#e60000" d="M267 1388.9 L270 1384.2 L273 1383.0 L276 1380.2 L279 1377.9 L282 1375.7 L285 1372.8 L288 1371.6 L291 1369.4 L294 1369.5 L297 1366.5 L300 1364.7 L303 1363.4 L306 1361.9 L309 1360.5 L312 1359.5 L315 1358.6 L318 1356.9 L321 1355.9 L324 1353.9 L327 1352.4 L330 1351.5 L333 1349.5 L336 1347.3 L339 1345.7 L342 1344.2 L345 1343.0 L348 1340.0 L351 1337.9 L354 1336.3 L357 1333.2 L360 1331.3 L363 1329.6 L366 1327.2 L369 1324.8 L372 1322.9 L375 1319.1 L378 1318.6 L381 1315.5 L384 1313.0 L387 1311.6 L390 1309.6 L393 1306.9 L396 1304.5 L399 1302.8 L402 1300.7 L405 1299.3 L408 1297.0 L411 1294.7 L414 1293.2 L417 1290.7 L420 1288.4 L423 1287.2 L426 1285.2 L429 1282.9 L432 1280.7 L435 1279.1 L438 1275.8 L441 1275.2 L444 1273.0 L447 1270.0 L450 1268.6 L453 1266.0 L456 1264.7 L459 1261.2 L462 1259.4 L465 1257.9 L468 1255.7 L471 1251.8 L474 1250.1 L477 1247.9 L480 1244.9 L483 1243.3 L486 1239.3 L489 1237.3 L492 1234.0 L495 1232.4 L498 1229.0 L501 1226.1 L504 1222.8 L507 1221.6 L510 1218.6 L513 1215.9 L516 1213.3 L519 1210.3 L522 1207.1 L525 1204.3 L528 1201.6 L531 1199.8 L534 1195.8 L537 1193.5 L540 1190.9 L543 1188.5 L546 1185.9 L549 1182.4 L552 1179.6 L555 1177.7 L558 1175.6 L561 1172.7 L564 1169.9 L567 1167.0 L570 1164.6 L573 1161.8 L576 1159.6 L579 1156.3 L582 1154.1 L585 1151.3 L588 1149.0 L591 1146.2 L594 1144.6 L597 1141.5 L600 1138.9 L603 1134.7 L606 1132.8 L609 1130.0 L612 1127.9 L615 1124.0 L618 1122.9 L621 1120.3 L624 1116.6 L627 1114.1 L630 1111.5 L633 1109.3 L636 1106.8 L639 1104.7 L642 1101.0 L645 1098.6 L648 1095.6 L651 1093.5 L654 1090.3 L657 1087.9 L660 1084.0 L663 1081.8 L666 1078.9 L669 1077.4 L672 1074.5 L675 1071.7 L678 1069.3 L681 1067.5 L684 1064.9 L687 1062.8 L690 1061.5 L693 1060.5 L696 1057.4 L699 1055.4 L702 1053.2 L705 1051.3 L708 1050.3 L711 1048.6 L714 1046.3 L717 1044.6 L720 1042.7 L723 1040.8 L726 1038.1 L729 1036.5 L732 1034.8 L735 1032.4 L738 1030.7 L741 1028.7 L744 1027.3 L747 1026.3 L750 1024.3 L753 1023.0 L756 1022.1 L759 1020.8 L762 1020.0 L765 1017.1 L768 1017.2 L771 1015.4 L774 1014.5 L777 1013.8 L780 1012.8 L783 1011.8 L786 1010.4 L789 1009.9 L792 1007.9 L795 1006.9 L798 1006.4 L801 1005.1 L804 1006.0 L807 1005.5 L810 1006.2 L813 1005.5 L816 1005.7 L819 1006.1 L822 1006.1 L825 1004.4 L828 1003.5 L831 1002.2 L834 1002.7 L837 1001.9 L840 1002.9 L843 1002.5 L846 1002.8 L849 1003.4 L852 1003.6 L855 1004.7 L858 1005.6 L861 1005.8 L864 1006.7 L867 1007.7 L870 1007.7 L873 1008.3 L876 1008.6 L879 1008.5 L882 1010.1 L885 1009.4 L888 1011.0 L891 1011.2 L894 1012.3 L897 1012.4 L900 1012.7 L903 1013.9 L906 1014.3 L909 1015.4 L912 1016.6 L915 1017.7 L918 1019.0 L921 1020.0 L924 1021.7 L927 1022.3 L930 1024.6 L933 1025.6 L936 1028.0 L939 1029.5 L942 1029.4 L945 1031.8 L948 1033.1 L951 1034.1 L954 1036.3 L957 1037.3 L960 1038.3 L963 1040.5 L966 1042.2 L969 1044.0 L972 1045.2 L975 1048.0 L978 1050.0 L981 1051.2 L984 1053.6 L987 1056.0 L990 1057.9 L993 1061.1 L996 1062.6 L999 1064.2 L1002 1066.3 L1005 1068.7 L1008 1071.7 L1011 1072.6 L1014 1074.7 L1017 1076.9 L1020 1078.7 L1023 1081.8 L1026 1082.6 L1029 1085.3 L1032 1087.3 L1035 1089.9 L1038 1091.5 L1041 1095.4 L1044 1097.2 L1047 1100.0 L1050 1102.3 L1053 1105.2 L1056 1108.5 L1059 1111.4 L1062 1114.0 L1065 1116.7 L1068 1118.9 L1071 1121.0 L1074 1123.7 L1077 1125.8 L1080 1127.7 L1083 1130.3 L1086 1132.8 L1089 1134.6 L1092 1136.6 L1095 1139.3 L1098 1142.2 L1101 1143.7 L1104 1146.2 L1107 1148.6 L1110 1151.7 L1113 1152.8 L1116 1156.3 L1119 1159.3 L1122 1161.1 L1125 1164.8 L1128 1167.3 L1131 1169.7 L1134 1173.2 L1137 1176.0 L1140 1180.2 L1143 1185.0 L1146 1187.4 L1149 1191.9 L1152 1194.1 L1155 1197.5 L1158 1199.8 L1161 1201.5 L1164 1205.0 L1167 1208.2 L1170 1210.5 L1173 1213.4 L1176 1217.4 L1179 1220.2 L1182 1223.0 L1185 1226.8 L1188 1230.9 L1191 1233.7 L1194 1237.7 L1197 1241.3 L1200 1243.9 L1203 1246.5 L1206 1249.6 L1209 1253.2 L1212 1256.7 L1215 1259.4 L1218 1262.5 L1221 1265.0 L1224 1268.3 L1227 1270.9 L1230 1273.9 L1233 1276.4 L1236 1279.1 L1239 1282.4 L1242 1284.9 L1245 1287.7 L1248 1291.2 L1251 1293.6 L1254 1297.7 L1257 1299.6 L1260 1301.7 L1263 1305.3 L1266 1308.1 L1269 1310.7 L1272 1314.8 L1275 1317.3 L1278 1319.7 L1281 1325.0 L1284 1327.9 L1287 1332.4 L1290 1334.9 L1293 1338.1 L1296 1342.7 L1299 1344.8 L1302 1348.6 L1305 1352.5 L1308 1355.1 L1311 1358.2 L1314 1361.5 L1317 1365.0 L1320 1367.4 L1323 1371.2 L1326 1374.3 L1329 1378.1 L1332 1379.9 L1335 1382.7 L1338 1386.4 L1341 1388.8 L1344 1392.0 L1347 1394.7 L1350 1398.0 L1353 1400.0 L1356 1403.0 L1359 1404.6 L1362 1408.0 L1365 1411.8 L1368 1413.5 L1371 1416.1 L1374 1418.5 L1377 1422.0 L1380 1424.5 L1383 1426.6 L1386 1430.1 L1389 1432.6 L1392 1435.6 L1395 1437.7 L1398 1441.5 L1401 1443.7 L1404 1446.2 L1407 1448.7 L1410 1451.5 L1413 1454.7 L1416 1456.8 L1419 1460.0 L1422 1462.2 L1425 1465.0 L1428 1467.1 L1431 1469.1 L1434 1470.5 L1437 1473.8 L1440 1476.2 L1443 1478.1 L1446 1480.4 L1449 1482.1 L1452 1484.2 L1455 1486.0 L1458 1489.1 L1461 1490.6 L1464 1492.3 L1467 1493.8 L1470 1496.3 L1473 1498.9 L1476 1500.3 L1479 1501.6 L1482 1504.3 L1485 1506.0 L1488 1507.5 L1491 1509.1 L1494 1511.0 L1497 1512.5 L1500 1514.3 L1503 1515.4 L1506 1518.2 L1509 1519.4 L1512 1522.1 L1515 1522.1 L1518 1525.3 L1521 1527.5 L1524 1529.0 L1527 1531.6 L1530 1534.0 L1533 1536.3 L1536 1538.1 L1539 1540.7 L1542 1543.6 L1545 1546.0 L1548 1547.8 L1551 1550.1 L1554 1552.4 L1557 1554.9 L1560 1556.2 L1563 1558.2 L1566 1561.1 L1569 1562.7 L1572 1565.0 L1575 1567.4 L1578 1569.5 L1581 1570.7 L1584 1573.4 L1587 1573.9 L1590 1576.5 L1593 1577.1 L1596 1578.7 L1599 1581.0 L1602 1582.0 L1605 1583.2 L1608 1584.8 L1611 1586.7 L1614 1588.0 L1617 1589.5 L1620 1591.5 L1623 1592.3 L1626 1593.9 L1629 1595.4 L1632 1597.7 L1635 1599.1 L1638 1600.6 L1641 1601.4 L1644 1602.7 L1647 1604.5 L1650 1605.3 L1653 1607.1 L1656 1608.3 L1659 1608.9 L1662 1610.4 L1665 1611.7 L1668 1613.8 L1671 1615.5 L1674 1615.6 L1677 1616.9 L1680 1617.0 L1683 1619.1 L1686 1619.9 L1689 1620.3 L1692 1622.0 L1695 1621.8 L1698 1623.1 L1701 1624.0 L1704 1624.0 L1707 1625.6 L1710 1626.2 L1713 1625.7 L1716 1626.2 L1719 1627.5 L1722 1627.6 L1725 1627.5 L1728 1628.2 L1731 1628.5 L1734 1628.8 L1737 1629.4 L1740 1629.4 L1743 1630.2 L1746 1630.2 L1749 1629.9 L1752 1630.2 L1755 1630.4 L1758 1630.2 L1761 1629.4 L1764 1630.4 L1766 1630.0"/>
</g>
<g stroke="#000" stroke-width="4" fill="none">
<line x1="254" y1="1630.8" x2="1808" y2="1630.8"/>
<line x1="254" y1="700.9" x2="285" y2="700.9"/>
<line x1="254" y1="932.3" x2="285" y2="932.3"/>
<line x1="254" y1="1167.7" x2="285" y2="1167.7"/>
<line x1="254" y1="1398.7" x2="285" y2="1398.7"/>
<line x1="578" y1="1617" x2="578" y2="1644.5"/>
<line x1="885" y1="1617" x2="885" y2="1644.5"/>
<line x1="1192" y1="1617" x2="1192" y2="1644.5"/>
<line x1="1499" y1="1617" x2="1499" y2="1644.5"/>
<line x1="1806" y1="1617" x2="1806" y2="1644.5"/>
</g>
<g stroke-width="8.5">
<line x1="1274" y1="676.7" x2="1406" y2="676.7" stroke="#e60000"/>
<line x1="1274" y1="823" x2="1406" y2="823" stroke="#2e862e"/>
<line x1="1274" y1="970.8" x2="1406" y2="970.8" stroke="#2473cd"/>
<line x1="1274" y1="1107.7" x2="1406" y2="1107.7" stroke="#dc9b00"/>
</g>
<g font-family="'Liberation Sans', Arial, Helvetica, sans-serif" font-size="48" fill="#000" text-anchor="end">
<text x="231" y="719.7">0.4</text>
<text x="231" y="951.2">0.3</text>
<text x="231" y="1183.8">0.2</text>
<text x="231" y="1415.5">0.1</text>
<text x="231" y="1650">0</text>
</g>
<g font-family="'Liberation Sans', Arial, Helvetica, sans-serif" font-size="48" fill="#000" text-anchor="middle">
<text x="271.4" y="1706">400</text>
<text x="578.7" y="1706">450</text>
<text x="885.4" y="1706">500</text>
<text x="1193.3" y="1706">550</text>
<text x="1498.5" y="1706">600</text>
<text x="1806.5" y="1706">650</text>
</g>
<text font-family="'Liberation Sans', Arial, Helvetica, sans-serif" font-size="55.5" transform="translate(71.5 1346.4) rotate(-90)">Absorbance</text>
<text font-family="'Liberation Sans', Arial, Helvetica, sans-serif" font-size="55" x="1176.3" y="1802" letter-spacing="-0.6">Wavelength</text>
<text font-family="'Liberation Sans', Arial, Helvetica, sans-serif" font-size="55" x="1472" y="1802">(<tspan letter-spacing="1">nm</tspan><tspan dx="5.5">)</tspan></text>
</svg>
</body></html>
